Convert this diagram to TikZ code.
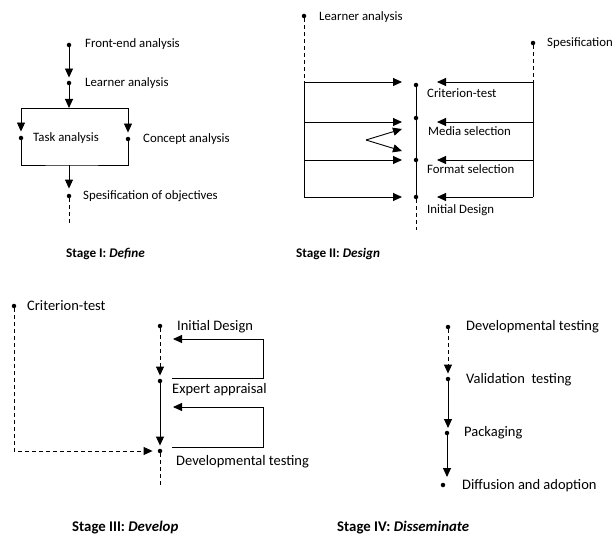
\documentclass[tikz,border=0pt]{standalone}
\usepackage{fontspec}
\setmainfont{Carlito}
\usetikzlibrary{arrows.meta}
\begin{document}
\begin{tikzpicture}[x=1pt,y=-1pt,
  dot/.style={circle,fill=black,inner sep=0pt,minimum size=4.5pt},
  lbl/.style={anchor=west,inner sep=0pt,font=\fontsize{12.8}{14}\selectfont},
  lblb/.style={anchor=west,inner sep=0pt,font=\fontsize{14.5}{16}\selectfont},
  ttl/.style={anchor=west,inner sep=0pt,font=\fontsize{13.2}{15}\selectfont\bfseries},
  ttlb/.style={anchor=west,inner sep=0pt,font=\fontsize{14.8}{16}\selectfont\bfseries},
  ln/.style={line width=0.9pt},
  tip/.style={-{Triangle[length=9pt,width=8pt]}},
  arr/.style={ln,tip,shorten >=3pt},
  arrf/.style={ln,tip},
  dsh/.style={ln,dash pattern=on 4pt off 3pt},
]
\useasboundingbox (0,0) rectangle (614,535);

% ---------- Stage I ----------
\node[dot] (fe) at (69,45) {};
\node[lbl] (fet) at (85,44) {Front-end analysis};
\node[dot] (la) at (69,83) {};
\node[lbl] (lat) at (85,83) {Learner analysis};
\node[dot] (ta) at (21,138) {};
\node[lbl] (tat) at (33,138) {Task analysis};
\node[dot] (ca) at (128,139) {};
\node[lbl] (cat) at (143,139) {Concept analysis};
\node[dot] (so) at (69,196) {};
\node[lbl] (sot) at (83,196) {Spesification of objectives};
\coordinate (j1) at (69,108);
\coordinate (j2) at (69,165);
\coordinate (se) at (69,223);
\draw[arr] (fe) -- (la);
\draw[arrf] (la) -- (j1);
\draw[ln] (ta |- j1) -- (ca |- j1);
\draw[arr,shorten >=4pt] (ta |- j1) -- (ta);
\draw[arr,shorten >=4pt] (ca |- j1) -- (ca);
\draw[ln] (ta) |- (j2) -| (ca);
\draw[arr,shorten >=5pt] (j2) -- (so);
\draw[dsh] (so) -- (se);
\node[ttl] (t1) at (66,254) {Stage I: \textit{Define}};

% ---------- Stage II ----------
\node[dot] (la2) at (304,16) {};
\node[lbl] (la2t) at (319,17) {Learner analysis};
\node[dot] (sp) at (533,43) {};
\node[lbl] (spt) at (547,43) {Spesification};
\node[dot] (ct) at (416,85) {};
\node[dot] (ms) at (416,118) {};
\node[dot] (fs) at (416,160) {};
\node[dot] (id) at (416,197) {};
\node[lbl] (ctt) at (427,93) {Criterion-test};
\node[lbl] (mst) at (428,131) {Media selection};
\node[lbl] (fst) at (427,169) {Format selection};
\node[lbl] (idt) at (427,210) {Initial Design};
\coordinate (l1) at (304,82);
\coordinate (l2) at (304,122);
\coordinate (l3) at (304,160);
\coordinate (l4) at (304,197);
\coordinate (r1) at (533,82);
\coordinate (r2) at (533,122);
\coordinate (r3) at (533,160);
\coordinate (r4) at (533,197);
\coordinate (a1) at (402,82);
\coordinate (a2) at (402,122);
\coordinate (a3) at (402,160);
\coordinate (a4) at (402,197);
\coordinate (b1) at (437,82);
\coordinate (b2) at (437,122);
\coordinate (b3) at (437,160);
\coordinate (b4) at (437,197);
\coordinate (ide) at (416,230);
\coordinate (zv) at (366,140);
\coordinate (z1) at (402,129);
\coordinate (z2) at (402,151);
\draw[dsh] (la2) -- (l1);
\draw[ln] (l1) -- (l4);
\draw[dsh] (sp) -- (r1);
\draw[ln] (r1) -- (r4);
\draw[ln] (ct) -- (ms) -- (fs) -- (id);
\draw[dsh] (id) -- (ide);
\foreach \i in {1,2,3,4}{
  \draw[arrf] (l\i) -- (a\i);
  \draw[arrf] (r\i) -- (b\i);
}
\draw[arrf] (zv) -- (z1);
\draw[arrf] (zv) -- (z2);
\node[ttl] (t2) at (296,254) {Stage II: \textit{Design}};

% ---------- Stage III ----------
\node[dot] (ct3) at (14,306) {};
\node[lblb] (ct3t) at (27,306) {Criterion-test};
\node[dot] (id3) at (160,326) {};
\node[lblb] (id3t) at (177,327) {Initial Design};
\node[dot] (ea) at (160,381) {};
\node[lblb] (eat) at (172,390) {Expert appraisal};
\node[dot] (dt) at (160,451) {};
\node[lblb] (dtt) at (176,462) {Developmental testing};
\coordinate (c3) at (14,452);
\coordinate (dte) at (160,485);
\coordinate (p1) at (172,378);
\coordinate (p2) at (263,378);
\coordinate (p3) at (263,339);
\coordinate (p4) at (173,339);
\coordinate (q1) at (172,447);
\coordinate (q2) at (263,447);
\coordinate (q3) at (263,407);
\coordinate (q4) at (173,407);
\draw[arr,dsh] (id3) -- (ea);
\draw[arr] (ea) -- (dt);
\draw[arr,dsh,shorten >=5pt] (ct3) |- (dt);
\draw[dsh] (dt) -- (dte);
\draw[arrf] (p1) -- (p2) -- (p3) -- (p4);
\draw[arrf] (q1) -- (q2) -- (q3) -- (q4);
\node[ttlb] (t3) at (72,528) {Stage III: \textit{Develop}};

% ---------- Stage IV ----------
\node[dot] (d4) at (448,327) {};
\node[lblb] (d4t) at (466,327) {Developmental testing};
\node[dot] (v4) at (448,379) {};
\node[lblb] (v4t) at (466,380) {Validation~~testing};
\node[dot] (pk) at (447,433) {};
\node[lblb] (pkt) at (464,433) {Packaging};
\node[dot] (df) at (443,485) {};
\node[lblb] (dft) at (462,486) {Diffusion and adoption};
\draw[arr,dsh] (d4) -- (v4);
\draw[arr,shorten >=5pt] (v4) -- (v4 |- pk);
\draw[arr,shorten >=8pt] (pk) -- (pk |- df);
\node[ttlb] (t4) at (337,528) {Stage IV: \textit{Disseminate}};
\end{tikzpicture}
\end{document}
